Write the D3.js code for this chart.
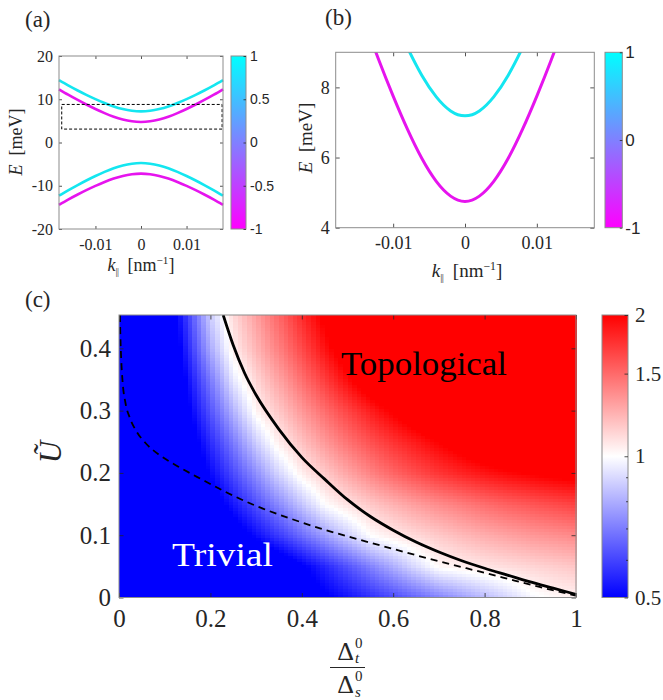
<!DOCTYPE html>
<html>

<head>
  <meta charset="utf-8">
  <title>Bands and phase diagram</title>
  <style>
    body {
      margin: 0;
      background: #ffffff;
    }

    svg {
      display: block;
    }

    .serif {
      font-family: "Liberation Serif", "DejaVu Serif", serif;
    }

    .sans {
      font-family: "Liberation Sans", "DejaVu Sans", sans-serif;
    }
  </style>
</head>

<body>
  <svg></svg>
  <script src="https://cdnjs.cloudflare.com/ajax/libs/d3/7.8.5/d3.min.js"></script>
  <script>
    var width = 663,
      height = 700;

    // (a), (b): bands, k in nm^-1, E in meV
    var kVals = [-0.018, -0.016, -0.014, -0.012, -0.010, -0.008, -0.006, -0.004, -0.002, 0,
      0.002, 0.004, 0.006, 0.008, 0.010, 0.012, 0.014, 0.016, 0.018];
    var eCyanUp = [14.4, 13.2, 12.08, 11.02, 10.03, 9.13, 8.34, 7.73, 7.33, 7.19,
      7.33, 7.73, 8.34, 9.13, 10.03, 11.02, 12.08, 13.2, 14.4];
    var eMagentaUp = [12.3, 11.06, 9.89, 8.78, 7.75, 6.80, 5.97, 5.32, 4.90, 4.75,
      4.90, 5.32, 5.97, 6.80, 7.75, 8.78, 9.89, 11.06, 12.3];
    var eCyanLow = [-12.3, -11.06, -9.89, -8.78, -7.75, -6.80, -5.97, -5.32, -4.90, -4.75,
      -4.90, -5.32, -5.97, -6.80, -7.75, -8.78, -9.89, -11.06, -12.3];
    var eMagentaLow = [-14.4, -13.2, -12.08, -11.02, -10.03, -9.13, -8.34, -7.73, -7.33, -7.19,
      -7.33, -7.73, -8.34, -9.13, -10.03, -11.02, -12.08, -13.2, -14.4];
    var zoomBoxK = [-0.0174, 0.0178];
    var zoomBoxE = [3.1, 8.8];

    var kTicks = [-0.01, 0, 0.01];
    var eTicksA = [-20, -10, 0, 10, 20];
    var eTicksB = [4, 6, 8];
    var spinTicksA = [-1, -0.5, 0, 0.5, 1];
    var spinTicksB = [-1, 0, 1];

    // (c): log2 of the gap ratio, rows U = 0 ... 0.45, columns D = 0 ... 1
    var gridD = [0, 0.05, 0.1, 0.15, 0.2, 0.25, 0.3, 0.35, 0.4, 0.45, 0.5,
      0.55, 0.6, 0.65, 0.7, 0.75, 0.8, 0.85, 0.9, 0.95, 1];
    var gridU = [0, 0.05, 0.1, 0.15, 0.2, 0.25, 0.3, 0.35, 0.4, 0.45];
    var logRatio = [
      [-2.0, -1.93, -1.82, -1.71, -1.60, -1.49, -1.38, -1.27, -1.15, -1.04, -0.93, -0.82, -0.71, -0.60, -0.49, -0.38, -0.27, -0.16, -0.04, 0.02, 0.05],
      [-2.0, -2.0, -2.0, -1.93, -1.75, -1.57, -1.39, -1.21, -1.04, -0.86, -0.68, -0.50, -0.32, -0.14, 0.02, 0.06, 0.10, 0.13, 0.16, 0.19, 0.22],
      [-2.0, -1.92, -1.73, -1.54, -1.35, -1.15, -0.96, -0.77, -0.58, -0.38, -0.19, 0.0, 0.08, 0.15, 0.21, 0.27, 0.32, 0.36, 0.40, 0.43, 0.46],
      [-2.0, -1.84, -1.61, -1.38, -1.15, -0.92, -0.69, -0.46, -0.23, 0.0, 0.11, 0.21, 0.30, 0.38, 0.45, 0.51, 0.57, 0.62, 0.66, 0.70, 0.74],
      [-2.0, -1.80, -1.53, -1.26, -0.98, -0.71, -0.44, -0.16, 0.06, 0.21, 0.35, 0.48, 0.60, 0.70, 0.79, 0.86, 0.92, 0.97, 1.01, 1.05, 1.08],
      [-2.0, -1.81, -1.48, -1.16, -0.84, -0.52, -0.19, 0.07, 0.24, 0.40, 0.55, 0.68, 0.80, 0.90, 1.0, 1.10, 1.20, 1.30, 1.40, 1.50, 1.60],
      [-2.0, -1.80, -1.43, -1.05, -0.68, -0.30, 0.04, 0.22, 0.40, 0.57, 0.73, 0.88, 1.02, 1.16, 1.30, 1.44, 1.58, 1.72, 1.86, 2.0, 2.0],
      [-2.0, -1.84, -1.40, -0.96, -0.53, -0.09, 0.16, 0.36, 0.56, 0.76, 0.96, 1.16, 1.36, 1.56, 1.76, 1.96, 2.0, 2.0, 2.0, 2.0, 2.0],
      [-2.0, -1.87, -1.36, -0.85, -0.34, 0.07, 0.29, 0.50, 0.71, 0.93, 1.14, 1.35, 1.57, 1.78, 1.99, 2.0, 2.0, 2.0, 2.0, 2.0, 2.0],
      [-2.0, -1.86, -1.31, -0.76, -0.21, 0.14, 0.37, 0.59, 0.82, 1.04, 1.27, 1.50, 1.72, 1.95, 2.0, 2.0, 2.0, 2.0, 2.0, 2.0, 2.0]
    ];
    // phase boundary (solid) and the dashed line, [D, U]
    var boundary = [[0.228, 0.4535], [0.25, 0.405], [0.275, 0.36], [0.30, 0.325], [0.35, 0.27],
      [0.40, 0.225], [0.45, 0.19], [0.50, 0.157], [0.55, 0.13], [0.60, 0.108], [0.65, 0.089],
      [0.70, 0.073], [0.75, 0.059], [0.80, 0.047], [0.85, 0.036], [0.90, 0.025], [0.95, 0.015], [1.0, 0.005]];
    var dashed = [[0.002, 0.4535], [0.003, 0.42], [0.005, 0.38], [0.008, 0.345], [0.014, 0.313],
      [0.024, 0.288], [0.038, 0.267], [0.058, 0.248], [0.09, 0.228], [0.13, 0.210], [0.18, 0.190],
      [0.24, 0.167], [0.30, 0.147], [0.37, 0.128], [0.44, 0.111], [0.52, 0.094], [0.60, 0.078],
      [0.68, 0.062], [0.76, 0.047], [0.84, 0.032], [0.92, 0.017], [1.0, 0.003]];
    var dTicks = [0, 0.2, 0.4, 0.6, 0.8, 1];
    var uTicks = [0, 0.1, 0.2, 0.3, 0.4];
    var ratioTicks = [0.5, 1, 1.5, 2];
    var ratioMinor = [0.6, 0.7, 0.8, 0.9];

    var ink = "#262626", boxGray = "#8c8c8c";
    var cyan = "#14e6f0", magenta = "#e614ee";

    var svg = d3.select("svg").attr("width", width).attr("height", height);
    var defs = svg.append("defs");

    function frame(g, x, y, xt, yt, o) {
      var x0 = x.range()[0], x1 = x.range()[1], y0 = y.range()[0], y1 = y.range()[1];
      var ab = g.append("g").attr("transform", "translate(0," + y0 + ")")
        .call(d3.axisBottom(x).tickValues(xt).tickSize(-o.tick).tickPadding(o.xpad).tickFormat(String));
      var at = g.append("g").attr("transform", "translate(0," + y1 + ")")
        .call(d3.axisTop(x).tickValues(xt).tickSize(-o.tick).tickFormat(""));
      var al = g.append("g").attr("transform", "translate(" + x0 + ",0)")
        .call(d3.axisLeft(y).tickValues(yt).tickSize(-o.tick).tickPadding(o.ypad).tickFormat(String));
      var ar = g.append("g").attr("transform", "translate(" + x1 + ",0)")
        .call(d3.axisRight(y).tickValues(yt).tickSize(-o.tick).tickFormat(""));
      [ab, at, al, ar].forEach(function (a) {
        a.select(".domain").remove();
        a.attr("font-family", null);
        a.selectAll("line").attr("stroke", ink).attr("stroke-width", 0.8);
      });
      [ab, al].forEach(function (a) {
        a.selectAll("text").attr("class", "serif").style("font-size", o.font + "px").attr("fill", ink);
      });
      g.append("rect").attr("x", x0).attr("y", y1).attr("width", x1 - x0).attr("height", y0 - y1)
        .attr("fill", "none").attr("stroke", boxGray).attr("stroke-width", 1);
    }

    function colorbar(id, x0, x1, scale, stops, ticks, o) {
      var grad = defs.append("linearGradient").attr("id", id)
        .attr("x1", 0).attr("y1", 1).attr("x2", 0).attr("y2", 0);
      grad.selectAll("stop").data(stops).enter().append("stop")
        .attr("offset", function (d) { return d[0]; })
        .attr("stop-color", function (d) { return d[1]; });
      var r = scale.range();
      svg.append("rect").attr("x", x0).attr("y", r[1]).attr("width", x1 - x0).attr("height", r[0] - r[1])
        .attr("fill", "url(#" + id + ")").attr("stroke", boxGray).attr("stroke-width", 1);
      var ax = svg.append("g").attr("transform", "translate(" + x1 + ",0)")
        .call(d3.axisRight(scale).tickValues(ticks).tickSize(-o.tick).tickPadding(o.pad).tickFormat(String));
      ax.select(".domain").remove();
      ax.attr("font-family", null);
      ax.selectAll("line").attr("stroke", ink).attr("stroke-width", 0.8);
      ax.selectAll("text").attr("class", o.family).style("font-size", o.font + "px").attr("fill", ink);
      return ax;
    }

    function kLabel(x, y, size) {
      var t = svg.append("text").attr("class", "serif").attr("x", x).attr("y", y).attr("text-anchor", "middle")
        .style("font-size", size + "px").attr("fill", ink);
      t.append("tspan").attr("font-style", "italic").text("k");
      t.append("tspan").style("font-size", (size * 0.55) + "px").attr("dy", 4)
        .attr("letter-spacing", -0.5).text("||");
      t.append("tspan").attr("dy", -4).text("\u2002[nm");
      t.append("tspan").style("font-size", (size * 0.62) + "px").attr("dy", -7).text("\u22121");
      t.append("tspan").attr("dy", 7).text("]");
    }

    function eLabel(x, y, size) {
      var t = svg.append("text").attr("class", "serif").attr("transform", "translate(" + x + "," + y + ") rotate(-90)")
        .attr("text-anchor", "middle").style("font-size", size + "px").attr("fill", ink);
      t.append("tspan").attr("font-style", "italic").text("E");
      t.append("tspan").text("\u2002[meV]");
    }

    function plainText(x, y, size, str, fill) {
      return svg.append("text").attr("class", "serif").attr("x", x).attr("y", y)
        .style("font-size", size + "px").attr("fill", fill || ink).text(str);
    }

    var spinStops = [[0, "#ff00ff"], [0.5, "#8080ff"], [1, "#00ffff"]];

    // ---------- (a) ----------
    var xA = d3.scaleLinear().domain([-0.018, 0.018]).range([59, 223]);
    var yA = d3.scaleLinear().domain([-20, 20]).range([229, 56]);
    var gA = svg.append("g");
    var lineA = d3.line().curve(d3.curveNatural)
      .x(function (d) { return xA(d[0]); }).y(function (d) { return yA(d[1]); });
    [[eCyanUp, cyan], [eMagentaUp, magenta], [eCyanLow, cyan], [eMagentaLow, magenta]].forEach(function (b) {
      gA.append("path").attr("d", lineA(d3.zip(kVals, b[0])))
        .attr("fill", "none").attr("stroke", b[1]).attr("stroke-width", 2.6);
    });
    gA.append("rect").attr("x", xA(zoomBoxK[0])).attr("y", yA(zoomBoxE[1]))
      .attr("width", xA(zoomBoxK[1]) - xA(zoomBoxK[0])).attr("height", yA(zoomBoxE[0]) - yA(zoomBoxE[1]))
      .attr("fill", "none").attr("stroke", "#000").attr("stroke-width", 1).attr("stroke-dasharray", "3,2");
    frame(gA, xA, yA, kTicks, eTicksA, { tick: 3, xpad: 10, ypad: 6, font: 16 });
    colorbar("spinA", 231, 246, d3.scaleLinear().domain([-1, 1]).range([229, 56]), spinStops, spinTicksA,
      { tick: 2.5, pad: 4, family: "sans", font: 14 });
    eLabel(22, 142, 18);
    kLabel(141, 271, 18);
    plainText(25, 27, 23, "(a)");

    // ---------- (b) ----------
    var xB = d3.scaleLinear().domain([-0.018, 0.018]).range([335.7, 594.3]);
    var yB = d3.scaleLinear().domain([4, 9]).range([227.7, 52.3]);
    defs.append("clipPath").attr("id", "clipB").append("rect")
      .attr("x", 335.7).attr("y", 52.3).attr("width", 594.3 - 335.7).attr("height", 227.7 - 52.3);
    var gB = svg.append("g");
    var lineB = d3.line().curve(d3.curveNatural)
      .x(function (d) { return xB(d[0]); }).y(function (d) { return yB(d[1]); });
    var gBc = gB.append("g").attr("clip-path", "url(#clipB)");
    [[eCyanUp, cyan], [eMagentaUp, magenta]].forEach(function (b) {
      gBc.append("path").attr("d", lineB(d3.zip(kVals, b[0])))
        .attr("fill", "none").attr("stroke", b[1]).attr("stroke-width", 3);
    });
    frame(gB, xB, yB, kTicks, eTicksB, { tick: 4, xpad: 9, ypad: 6, font: 18 });
    colorbar("spinB", 605, 622.3, d3.scaleLinear().domain([-1, 1]).range([227.7, 52.3]), spinStops, spinTicksB,
      { tick: 2.5, pad: 3, family: "sans", font: 17 });
    eLabel(312, 138, 19);
    kLabel(467, 277, 19);
    plainText(325, 25, 23, "(b)");

    // ---------- (c) ----------
    var uMax = 0.4535;
    var xC = d3.scaleLinear().domain([0, 1]).range([119, 576]);
    var yC = d3.scaleLinear().domain([0, uMax]).range([597.5, 315]);
    var heat = d3.scaleLinear().domain([-1, 0, 1]).range(["#0000ff", "#ffffff", "#ff0000"]).clamp(true);

    function logRatioAt(d, u) {
      var sd = gridD[1] - gridD[0], su = gridU[1] - gridU[0];
      var fi = Math.max(0, Math.min(gridD.length - 1.000001, (d - gridD[0]) / sd));
      var fj = Math.max(0, Math.min(gridU.length - 1.000001, (u - gridU[0]) / su));
      var i = Math.floor(fi), j = Math.floor(fj), a = fi - i, b = fj - j;
      var v00 = logRatio[j][i], v10 = logRatio[j][i + 1], v01 = logRatio[j + 1][i], v11 = logRatio[j + 1][i + 1];
      return (1 - b) * ((1 - a) * v00 + a * v10) + b * ((1 - a) * v01 + a * v11);
    }

    var nCol = 100, nRow = 94, cells = [];
    for (var j = 0; j < nRow; j++) {
      for (var i = 0; i < nCol; i++) {
        cells.push({ d0: i / nCol, d1: (i + 1) / nCol, u0: j * uMax / nRow, u1: (j + 1) * uMax / nRow });
      }
    }
    var gC = svg.append("g");
    gC.append("g").selectAll("rect").data(cells).enter().append("rect")
      .attr("x", function (c) { return xC(c.d0); })
      .attr("y", function (c) { return yC(c.u1); })
      .attr("width", function (c) { return xC(c.d1) - xC(c.d0) + 0.6; })
      .attr("height", function (c) { return yC(c.u0) - yC(c.u1) + 0.6; })
      .attr("fill", function (c) { return heat(logRatioAt((c.d0 + c.d1) / 2, (c.u0 + c.u1) / 2)); })
      .attr("shape-rendering", "crispEdges");

    defs.append("clipPath").attr("id", "clipC").append("rect")
      .attr("x", 119).attr("y", 315).attr("width", 576 - 119).attr("height", 597.5 - 315);
    var lineC = d3.line().curve(d3.curveMonotoneX)
      .x(function (d) { return xC(d[0]); }).y(function (d) { return yC(d[1]); });
    var gCc = gC.append("g").attr("clip-path", "url(#clipC)");
    gCc.append("path").attr("d", lineC(dashed)).attr("fill", "none").attr("stroke", "#000")
      .attr("stroke-width", 1.8).attr("stroke-dasharray", "7,5");
    gCc.append("path").attr("d", lineC(boundary)).attr("fill", "none").attr("stroke", "#000")
      .attr("stroke-width", 2.8);

    plainText(341, 375, 33, "Topological", "#000")
      .attr("textLength", 166).attr("lengthAdjust", "spacingAndGlyphs");
    plainText(172, 566, 33, "Trivial", "#fff")
      .attr("textLength", 101).attr("lengthAdjust", "spacingAndGlyphs");

    frame(gC, xC, yC, dTicks, uTicks, { tick: 4.5, xpad: 12, ypad: 8, font: 25 });

    var ratioScale = d3.scaleLog().domain([0.5, 2]).range([597.5, 315]);
    colorbar("ratioC", 602, 628, ratioScale, [[0, "#0000ff"], [0.5, "#ffffff"], [1, "#ff0000"]],
      ratioTicks, { tick: 3.5, pad: 7, family: "serif", font: 21 });
    svg.append("g").selectAll("line").data(ratioMinor).enter().append("line")
      .attr("x1", 628).attr("x2", 626)
      .attr("y1", function (d) { return ratioScale(d); }).attr("y2", function (d) { return ratioScale(d); })
      .attr("stroke", ink).attr("stroke-width", 0.8);

    // y label: U tilde
    svg.append("text").attr("class", "serif").attr("transform", "translate(61,452) rotate(-90)")
      .attr("text-anchor", "middle").attr("font-style", "italic").style("font-size", "31px").attr("fill", ink)
      .text("\u0168");

    // x label: Delta_t^0 / Delta_s^0
    function deltaPart(baseY, supY, subY, sub) {
      plainText(354, baseY, 26, "\u0394").attr("text-anchor", "end");
      plainText(355, supY, 15, "0");
      plainText(355, subY, 15, sub).attr("font-style", "italic");
    }
    deltaPart(660, 648, 663, "t");
    deltaPart(693, 681, 697, "s");
    svg.append("line").attr("x1", 330).attr("x2", 365).attr("y1", 667.5).attr("y2", 667.5)
      .attr("stroke", ink).attr("stroke-width", 1.2);

    plainText(25, 307, 23, "(c)");
  </script>
</body>

</html>
